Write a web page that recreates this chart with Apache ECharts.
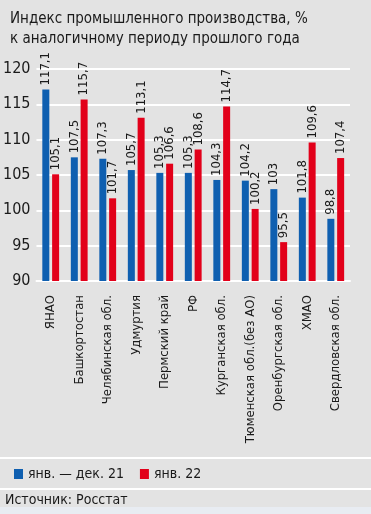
<!DOCTYPE html>
<html><head><meta charset="utf-8">
<script src="https://cdn.jsdelivr.net/npm/echarts@6/dist/echarts.min.js"></script>
<style>html,body{margin:0;padding:0;background:#e3e3e3;}#c{width:371px;height:514px;}</style>
</head><body><div id="c"></div>
<script>
const categories = ['ЯНАО','Башкортостан','Челябинская обл.','Удмуртия','Пермский край','РФ','Курганская обл.','Тюменская обл.(без АО)','Оренбургская обл.','ХМАО','Свердловская обл.'];
const series2021 = [117.1,107.5,107.3,105.7,105.3,105.3,104.3,104.2,103,101.8,98.8];
const series2022 = [105.1,115.7,101.7,113.1,106.6,108.6,114.7,100.2,95.5,109.6,107.4];
const seriesNames = ['янв. — дек. 21','янв. 22'];
const yTicks = [90,95,100,105,110,115,120];
const titleText = 'Индекс промышленного производства, %\nк аналогичному периоду прошлого года';
const sourceText = 'Источник: Росстат';

const FONT = '"Liberation Sans Narrow","DejaVu Sans Condensed","Roboto",sans-serif';
const BLUE = '#0f5fb0', RED = '#e2001a';
const chart = echarts.init(document.getElementById('c'), null, {renderer:'canvas'});
const fmt = p => String(p.value).replace('.', ',');
chart.setOption({
  backgroundColor:'#e3e3e3',
  animation:false,
  title:{text:titleText,left:5,top:4,textStyle:{fontFamily:FONT,fontSize:15,fontWeight:'normal',color:'#1a1a1a',lineHeight:20}},
  grid:{left:36,right:21,top:69,bottom:233,containLabel:false},
  legend:{left:9,top:462,itemWidth:9,itemHeight:10,itemGap:16,icon:'rect',
    textStyle:{fontFamily:FONT,fontSize:14,color:'#1a1a1a'},data:seriesNames},
  xAxis:{type:'category',data:categories,
    axisLine:{show:true,lineStyle:{color:'#ffffff',width:2}},axisTick:{show:false},
    axisLabel:{rotate:90,interval:0,margin:14,fontFamily:FONT,fontSize:13,color:'#1a1a1a'}},
  yAxis:{type:'value',min:90,max:120,interval:5,
    axisLine:{show:false},axisTick:{show:false},
    splitLine:{lineStyle:{color:'#ffffff',width:2}},
    axisLabel:{margin:6,fontFamily:FONT,fontSize:16,color:'#1a1a1a',
      formatter:v=>yTicks.includes(v)?String(v):''}},
  series:[
    {name:seriesNames[0],type:'bar',data:series2021,barWidth:7,barGap:'40%',itemStyle:{color:BLUE},
     label:{show:true,position:'top',rotate:90,align:'left',verticalAlign:'middle',distance:4,
       fontFamily:FONT,fontSize:13,color:'#1a1a1a',formatter:fmt}},
    {name:seriesNames[1],type:'bar',data:series2022,barWidth:7,itemStyle:{color:RED},
     label:{show:true,position:'top',rotate:90,align:'left',verticalAlign:'middle',distance:4,
       fontFamily:FONT,fontSize:13,color:'#1a1a1a',formatter:fmt}}
  ],
  graphic:[
    {type:'rect',left:0,top:457,shape:{width:371,height:2},style:{fill:'#ffffff'}},
    {type:'rect',left:0,top:488,shape:{width:371,height:2},style:{fill:'#ffffff'}},
    {type:'rect',left:0,top:507,shape:{width:371,height:7},style:{fill:'#e8ecf2'}},
    {type:'text',left:5,top:493,style:{text:sourceText,fontFamily:FONT,fontSize:14,fill:'#1a1a1a'}}
  ]
});
</script></body></html>
